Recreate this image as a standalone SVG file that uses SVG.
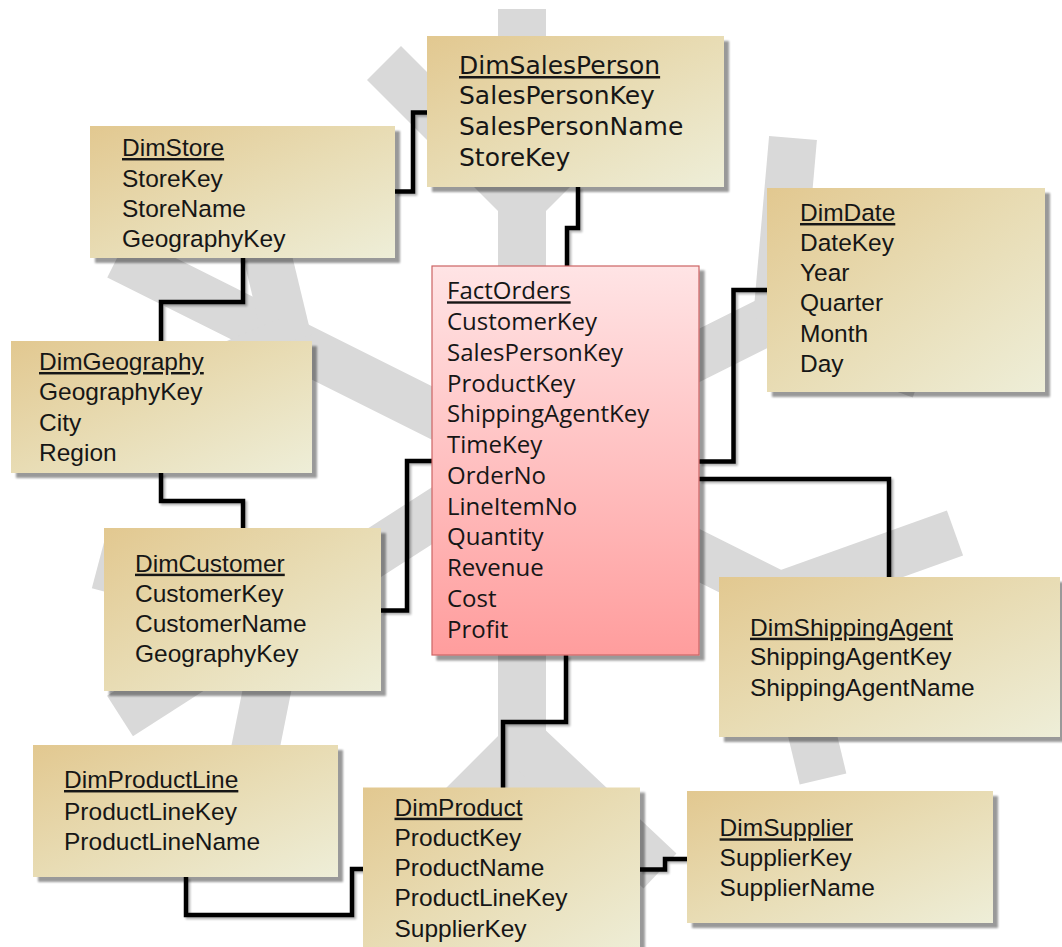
<svg xmlns="http://www.w3.org/2000/svg" width="1062" height="947" viewBox="0 0 1062 947">
<defs>
  <linearGradient id="dimFill" x1="0" y1="0" x2="1" y2="1">
    <stop offset="0" stop-color="#e2c890"/>
    <stop offset="0.5" stop-color="#e8dcb4"/>
    <stop offset="1" stop-color="#eeeed8"/>
  </linearGradient>
  <linearGradient id="factFill" x1="0" y1="0" x2="0" y2="1">
    <stop offset="0" stop-color="#ffe4e5"/>
    <stop offset="1" stop-color="#ff9d9d"/>
  </linearGradient>
  <filter id="sh" x="-5%" y="-5%" width="115%" height="120%">
    <feGaussianBlur in="SourceAlpha" stdDeviation="1.2" result="b"/>
    <feOffset in="b" dx="5" dy="5" result="o"/>
    <feComponentTransfer in="o" result="s"><feFuncA type="linear" slope="0.4"/></feComponentTransfer>
    <feMerge><feMergeNode in="s"/><feMergeNode in="SourceGraphic"/></feMerge>
  </filter>
  <filter id="lsh" x="-10%" y="-10%" width="130%" height="130%">
    <feGaussianBlur in="SourceAlpha" stdDeviation="1" result="b"/>
    <feOffset in="b" dx="2" dy="2" result="o"/>
    <feComponentTransfer in="o" result="s"><feFuncA type="linear" slope="0.3"/></feComponentTransfer>
    <feMerge><feMergeNode in="s"/><feMergeNode in="SourceGraphic"/></feMerge>
  </filter>
</defs>
<style>
  .snow { stroke: #d9d9d9; stroke-width: 48; fill: none; stroke-linecap: butt; }
  .conn { stroke: #000; stroke-width: 4.5; fill: none; stroke-linejoin: miter; }
  .dim { fill: url(#dimFill); filter: url(#sh); }
  .fact { fill: url(#factFill); stroke: #cc6464; stroke-width: 1.2; filter: url(#sh); }
  .t { font-family: "Liberation Sans", Arial, sans-serif; font-size: 24.5px; fill: #161616; }
  .ts { font-family: "DejaVu Sans", Verdana, sans-serif; font-size: 25px; fill: #161616; }
  .tf { font-family: "Open Sans", "Noto Sans", sans-serif; font-size: 24px; fill: #161616; }
  .h { text-decoration: underline; }
</style>

<g id="snowflake">
  <line class="snow" x1="522" y1="9" x2="522" y2="900"/>
  <line class="snow" x1="522" y1="201" x2="384" y2="63"/>
  <line class="snow" x1="522" y1="201" x2="660" y2="63"/>
  <line class="snow" x1="522" y1="746" x2="384" y2="884"/>
  <line class="snow" x1="522" y1="741" x2="660" y2="871"/>
  <line class="snow" x1="522" y1="458" x2="118" y2="256"/>
  <line class="snow" x1="288" y1="341" x2="254" y2="200"/>
  <line class="snow" x1="288" y1="341" x2="150" y2="400"/>
  <line class="snow" x1="560" y1="425" x2="900" y2="255"/>
  <line class="snow" x1="777" y1="320" x2="793" y2="138"/>
  <line class="snow" x1="771" y1="320" x2="921" y2="375"/>
  <line class="snow" x1="560" y1="486" x2="960" y2="686"/>
  <line class="snow" x1="779" y1="596" x2="955" y2="533"/>
  <line class="snow" x1="779" y1="596" x2="823" y2="779"/>
  <line class="snow" x1="522" y1="458" x2="120" y2="716"/>
  <line class="snow" x1="286" y1="615" x2="98" y2="565"/>
  <line class="snow" x1="282" y1="615" x2="245" y2="800"/>
</g>

<g id="connectors" filter="url(#lsh)">
  <path class="conn" d="M395,191.5 H413 V112.5 H428"/>
  <path class="conn" d="M578,187 V228 H567 V266"/>
  <path class="conn" d="M243,258 V302 H161 V341"/>
  <path class="conn" d="M161,473 V501 H243 V528"/>
  <path class="conn" d="M381,610.5 H407 V461 H432"/>
  <path class="conn" d="M699,461.5 H733.5 V290 H767"/>
  <path class="conn" d="M699,479 H889 V577"/>
  <path class="conn" d="M566,655 V722 H503 V788"/>
  <path class="conn" d="M186,877 V915 H352 V869 H363"/>
  <path class="conn" d="M640,869.5 H665 V859 H687"/>
</g>

<g id="DimSalesPerson">
  <rect class="dim" x="427" y="36" width="297" height="151"/>
  <text class="ts h" x="459" y="74">DimSalesPerson</text>
  <text class="ts" x="459" y="104">SalesPersonKey</text>
  <text class="ts" x="459" y="135">SalesPersonName</text>
  <text class="ts" x="459" y="165.5">StoreKey</text>
</g>

<g id="DimStore">
  <rect class="dim" x="90" y="126" width="305" height="132"/>
  <text class="t h" x="122" y="156">DimStore</text>
  <text class="t" x="122" y="186.5">StoreKey</text>
  <text class="t" x="122" y="217">StoreName</text>
  <text class="t" x="122" y="247">GeographyKey</text>
</g>

<g id="DimGeography">
  <rect class="dim" x="11" y="341" width="301" height="132"/>
  <text class="t h" x="39" y="370">DimGeography</text>
  <text class="t" x="39" y="400">GeographyKey</text>
  <text class="t" x="39" y="430.5">City</text>
  <text class="t" x="39" y="460.5">Region</text>
</g>

<g id="DimCustomer">
  <rect class="dim" x="104" y="528" width="277" height="163"/>
  <text class="t h" x="135" y="571.7">DimCustomer</text>
  <text class="t" x="135" y="601.7">CustomerKey</text>
  <text class="t" x="135" y="632.3">CustomerName</text>
  <text class="t" x="135" y="662.3">GeographyKey</text>
</g>

<g id="DimProductLine">
  <rect class="dim" x="33" y="745" width="305" height="132"/>
  <text class="t h" x="64" y="788">DimProductLine</text>
  <text class="t" x="64" y="819.5">ProductLineKey</text>
  <text class="t" x="64" y="849.7">ProductLineName</text>
</g>

<g id="DimProduct">
  <rect class="dim" x="363" y="787.5" width="277" height="170"/>
  <text class="t h" x="394.5" y="815.7">DimProduct</text>
  <text class="t" x="394.5" y="845.7">ProductKey</text>
  <text class="t" x="394.5" y="876.3">ProductName</text>
  <text class="t" x="394.5" y="906.3">ProductLineKey</text>
  <text class="t" x="394.5" y="937">SupplierKey</text>
</g>

<g id="DimSupplier">
  <rect class="dim" x="687" y="791" width="306" height="132"/>
  <text class="t h" x="719.6" y="836.3">DimSupplier</text>
  <text class="t" x="719.6" y="866.3">SupplierKey</text>
  <text class="t" x="719.6" y="896.3">SupplierName</text>
</g>

<g id="DimShippingAgent">
  <rect class="dim" x="719" y="577" width="341" height="160"/>
  <text class="t h" x="750" y="635.7">DimShippingAgent</text>
  <text class="t" x="750" y="665">ShippingAgentKey</text>
  <text class="t" x="750" y="696">ShippingAgentName</text>
</g>

<g id="DimDate">
  <rect class="dim" x="767" y="188" width="278" height="204"/>
  <text class="t h" x="800" y="221">DimDate</text>
  <text class="t" x="800" y="251">DateKey</text>
  <text class="t" x="800" y="281">Year</text>
  <text class="t" x="800" y="311">Quarter</text>
  <text class="t" x="800" y="341.7">Month</text>
  <text class="t" x="800" y="371.7">Day</text>
</g>

<g id="FactOrders">
  <rect class="fact" x="432" y="266" width="267" height="389"/>
  <text class="tf h" x="447" y="299.3">FactOrders</text>
  <text class="tf" x="447" y="330">CustomerKey</text>
  <text class="tf" x="447" y="360.8">SalesPersonKey</text>
  <text class="tf" x="447" y="391.5">ProductKey</text>
  <text class="tf" x="447" y="422.3">ShippingAgentKey</text>
  <text class="tf" x="447" y="453">TimeKey</text>
  <text class="tf" x="447" y="483.8">OrderNo</text>
  <text class="tf" x="447" y="514.5">LineItemNo</text>
  <text class="tf" x="447" y="545.3">Quantity</text>
  <text class="tf" x="447" y="576">Revenue</text>
  <text class="tf" x="447" y="606.8">Cost</text>
  <text class="tf" x="447" y="637.5">Profit</text>
</g>
</svg>
